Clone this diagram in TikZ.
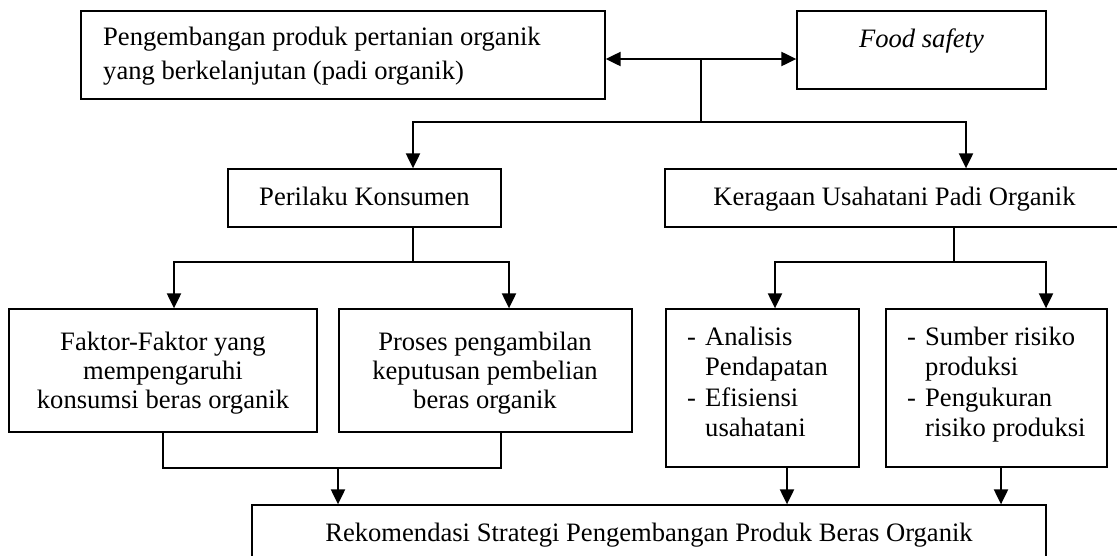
\documentclass[tikz,border=0pt]{standalone}
\usepackage{fontspec}
\setmainfont{Liberation Serif}
\usetikzlibrary{arrows.meta}
\begin{document}
\begin{tikzpicture}[x=1pt,y=-1pt,
  >={Triangle[length=15pt,width=14pt]},
  boxnode/.style={draw, line width=1.3pt, inner sep=0pt, minimum width=#1},
  txt/.style={font=\fontsize{26.6}{30}\selectfont, inner sep=0pt},
  thinline/.style={line width=1.3pt, line cap=rect},
  arrline/.style={line width=2.1pt, ->}]
\fill[white] (0,0) rectangle (1117,555);
\useasboundingbox (0,0) rectangle (1117,555);

% boxes
\node[boxnode=524pt, minimum height=88pt] (top) at (343,55) {};
\node[boxnode=249pt, minimum height=78pt] (food) at (921.5,50) {};
\node[boxnode=273pt, minimum height=58pt] (perilaku) at (364.5,198) {};
\node[boxnode=460pt, minimum height=58pt] (keragaan) at (895,198) {};
\node[boxnode=308pt, minimum height=123pt] (faktor) at (163,370.5) {};
\node[boxnode=293pt, minimum height=123pt] (proses) at (485.5,370.5) {};
\node[boxnode=193pt, minimum height=158pt] (analisis) at (762.5,388) {};
\node[boxnode=221pt, minimum height=158pt] (sumber) at (996.5,388) {};
\node[boxnode=794pt, minimum height=60pt] (rekom) at (649,535) {};

% texts
\node[txt, anchor=base west] (t1) at (103,45) {Pengembangan produk pertanian organik};
\node[txt, anchor=base west] (t2) at (103,79) {yang berkelanjutan (padi organik)};
\node[txt, anchor=base] (t3) at (921.5,47) {\itshape Food safety};
\node[txt, anchor=base] (t4) at (364.5,205) {Perilaku Konsumen};
\node[txt, anchor=base] (t5) at (894.5,205) {Keragaan Usahatani Padi Organik};
\node[txt, anchor=base] (t6) at (163,350) {Faktor-Faktor yang};
\node[txt, anchor=base] (t7) at (163,379) {mempengaruhi};
\node[txt, anchor=base] (t8) at (163,408) {konsumsi beras organik};
\node[txt, anchor=base] (t9) at (485,350) {Proses pengambilan};
\node[txt, anchor=base] (t10) at (485,379) {keputusan pembelian};
\node[txt, anchor=base] (t11) at (485,408) {beras organik};
\node[txt, anchor=base west] (d1) at (687,345) {-};
\node[txt, anchor=base west] (t12) at (705,345) {Analisis};
\node[txt, anchor=base west] (t13) at (705,375) {Pendapatan};
\node[txt, anchor=base west] (d2) at (687,406) {-};
\node[txt, anchor=base west] (t14) at (705,406) {Efisiensi};
\node[txt, anchor=base west] (t15) at (705,436) {usahatani};
\node[txt, anchor=base west] (d3) at (907,345) {-};
\node[txt, anchor=base west] (t16) at (925,345) {Sumber risiko};
\node[txt, anchor=base west] (t17) at (925,375) {produksi};
\node[txt, anchor=base west] (d4) at (907,406) {-};
\node[txt, anchor=base west] (t18) at (925,406) {Pengukuran};
\node[txt, anchor=base west] (t19) at (925,436) {risiko produksi};
\node[txt, anchor=base] (t20) at (649,541) {Rekomendasi Strategi Pengembangan Produk Beras Organik};

% top connectors
\coordinate (jA) at (701,59);
\coordinate (jB) at (701,122);
\coordinate (pA) at (413,122);
\coordinate (kA) at (966,122);
\draw[line width=2.1pt, <->] (top.east |- jA) -- (food.west |- jA);
\draw[thinline] (jA) -- (jB);
\draw[thinline] (pA) -- (kA);
\draw[arrline] (pA) -- (pA |- perilaku.north);
\draw[arrline] (kA) -- (kA |- keragaan.north);

% perilaku branch
\coordinate (pB) at (413,262);
\coordinate (fA) at (174,262);
\coordinate (prA) at (509,262);
\draw[thinline] (pB |- perilaku.south) -- (pB);
\draw[thinline] (fA) -- (prA);
\draw[arrline] (fA) -- (fA |- faktor.north);
\draw[arrline] (prA) -- (prA |- proses.north);

% keragaan branch
\coordinate (kB) at (954,262);
\coordinate (aA) at (775,262);
\coordinate (sA) at (1046,262);
\draw[thinline] (kB |- keragaan.south) -- (kB);
\draw[thinline] (aA) -- (sA);
\draw[arrline] (aA) -- (aA |- analisis.north);
\draw[arrline] (sA) -- (sA |- sumber.north);

% bottom joins
\coordinate (fB) at (163,468);
\coordinate (prB) at (501,468);
\coordinate (mB) at (338,468);
\draw[thinline] (faktor.south) -- (fB) -- (prB) -- (prB |- proses.south);
\draw[arrline] (mB) -- (mB |- rekom.north);
\coordinate (aB) at (787,467);
\coordinate (sB) at (1001,467);
\draw[arrline] (aB |- analisis.south) -- (aB |- rekom.north);
\draw[arrline] (sB |- sumber.south) -- (sB |- rekom.north);
\end{tikzpicture}
\end{document}
